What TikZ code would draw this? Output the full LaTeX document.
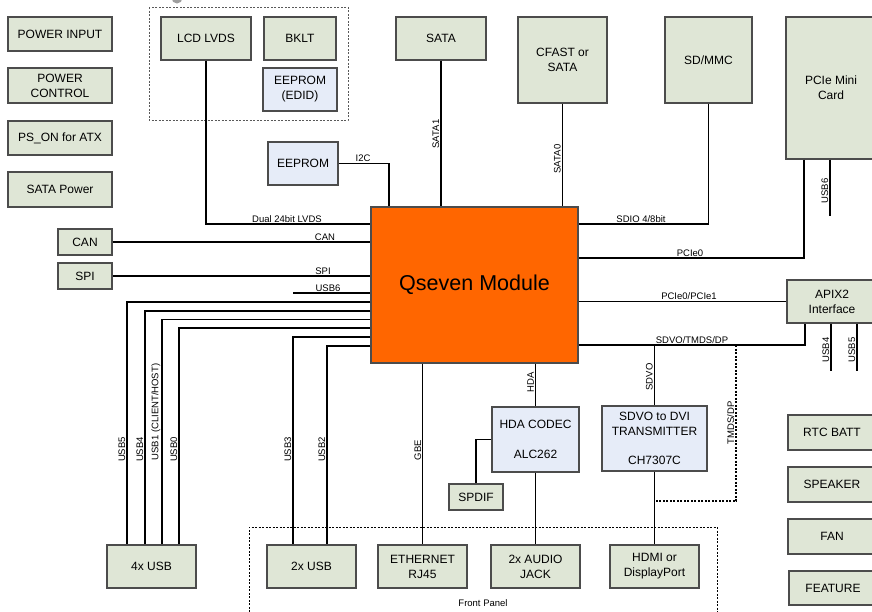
\documentclass[tikz,border=0pt]{standalone}
\usepackage{fontspec}
\setmainfont{Liberation Sans}
\usepackage{tikz}

\definecolor{boxgreen}{RGB}{223,230,214}
\definecolor{boxblue}{RGB}{230,236,248}
\definecolor{qorange}{RGB}{255,102,0}

\begin{document}
\begin{tikzpicture}[x=1pt, y=-1pt,
  box/.style={draw=black!70, line width=1.2pt, fill=boxgreen, align=center,
    inner sep=1pt, font=\fontsize{12}{15}\selectfont},
  chip/.style={box, fill=boxblue},
  wire/.style={line width=1.1pt},
  lbl/.style={anchor=south, inner sep=1.5pt, font=\fontsize{9.5}{11}\selectfont},
  vlbl/.style={lbl, rotate=90},
  grp/.style={line width=0.9pt, dash pattern=on 2pt off 1.5pt},
  ]
  \useasboundingbox (0,0) rectangle (872,611);

  % Grey mark cut at the top edge
  \fill[black!38] (177,-2) circle (5.5pt);

  % Display group and front panel frames
  \draw[grp, black!65] (149,7) rectangle (348,120);
  \draw[grp] (249,640) |- (717,527) -- (717,640);
  \node[lbl, anchor=center] (tfront) at (483,603) {Front Panel};

  % Power boxes on the left
  \node[box, minimum width=104pt, minimum height=34pt] (pwrin) at (60,34) {POWER INPUT};
  \node[box, minimum width=104pt, minimum height=35pt] (pwrctl) at (60,85.5) {POWER\\CONTROL};
  \node[box, minimum width=104pt, minimum height=34pt] (pson) at (60,138) {PS\_ON for ATX};
  \node[box, minimum width=104pt, minimum height=35pt] (satapwr) at (60,189.5) {SATA Power};
  \node[box, minimum width=54pt, minimum height=26pt] (can) at (85,242) {CAN};
  \node[box, minimum width=54pt, minimum height=26pt] (spi) at (85,276) {SPI};

  % Display parts
  \node[box, minimum width=90pt, minimum height=43pt] (lcd) at (206,38.5) {LCD LVDS};
  \node[box, minimum width=72pt, minimum height=43pt] (bklt) at (300,38.5) {BKLT};
  \node[chip, minimum width=74pt, minimum height=43pt] (edid) at (300,89.5) {EEPROM\\(EDID)};
  \node[chip, minimum width=70pt, minimum height=43pt] (eeprom) at (303,163.5) {EEPROM};

  % Storage and expansion on top
  \node[box, minimum width=90pt, minimum height=43pt] (sata) at (441,38.5) {SATA};
  \node[box, minimum width=89pt, minimum height=86pt] (cfast) at (562.5,60) {CFAST or\\SATA};
  \node[box, minimum width=87pt, minimum height=86pt] (sdmmc) at (708.5,60) {SD/MMC};
  \node[box, minimum width=90pt, minimum height=142pt] (pcie) at (831,88) {PCIe Mini\\Card};
  \node[box, minimum width=90pt, minimum height=43pt] (apix) at (832,301.5) {APIX2\\Interface};

  % The module
  \node[draw=black!70, line width=1.2pt, fill=qorange, minimum width=207pt,
    minimum height=156pt, font=\fontsize{21.5}{24}\selectfont] (qseven) at (474.5,285) {Qseven Module};

  % Boxes on the right
  \node[box, minimum width=88pt, minimum height=35pt] (rtc) at (832,432.5) {RTC BATT};
  \node[box, minimum width=88pt, minimum height=35pt] (speaker) at (832,484.5) {SPEAKER};
  \node[box, minimum width=88pt, minimum height=35pt] (fan) at (832,536.5) {FAN};
  \node[box, minimum width=88pt, minimum height=34pt] (feature) at (833,588) {FEATURE};

  % Codec and transmitter
  \node[chip, minimum width=87pt, minimum height=65pt] (hda) at (535.5,439.5) {HDA CODEC\\[15pt]ALC262};
  \node[box, minimum width=54pt, minimum height=26pt] (spdif) at (476,497) {SPDIF};
  \node[chip, minimum width=105pt, minimum height=65pt] (sdvo) at (654.5,438.5) {SDVO to DVI\\TRANSMITTER\\[14pt]CH7307C};

  % Connectors along the bottom
  \node[box, minimum width=89pt, minimum height=43pt] (usb4x) at (151.5,566.5) {4x USB};
  \node[box, minimum width=89pt, minimum height=43pt] (usb2x) at (311.5,566.5) {2x USB};
  \node[box, minimum width=89pt, minimum height=43pt] (eth) at (422.5,566.5) {ETHERNET\\RJ45};
  \node[box, minimum width=89pt, minimum height=43pt] (audio) at (535.5,566.5) {2x AUDIO\\JACK};
  \node[box, minimum width=89pt, minimum height=43pt] (hdmi) at (654.5,566.5) {HDMI or\\DisplayPort};

  % Free line ends
  \coordinate (qusb6) at (293,293);
  \coordinate (pusb6) at (830,216);
  \coordinate (ausb4) at (831,371);
  \coordinate (ausb5) at (857,371);
  \coordinate (tmdsjoin) at (736,345);

  % Left side links
  \draw[wire] (lcd.south) |- (qseven.west |- 0,224);
  \node[lbl] (tlvds) at (287,224) {Dual 24bit LVDS};
  \draw[wire] (eeprom.east) -| (qseven.north -| 389,0);
  \node[lbl] (ti2c) at (363,163.5) {I2C};
  \draw[wire] (can.east) -- (can.east -| qseven.west);
  \node[lbl] (tcan) at (325,242) {CAN};
  \draw[wire] (spi.east) -- (spi.east -| qseven.west);
  \node[lbl] (tspi) at (323,276) {SPI};
  \draw[wire] (qusb6) -- (qusb6 -| qseven.west);
  \node[lbl] (tusb6) at (328,293) {USB6};

  % USB ports
  \draw[wire] (qseven.west |- 0,302) -| (usb4x.north -| 127,0);
  \draw[wire] (qseven.west |- 0,311) -| (usb4x.north -| 145,0);
  \draw[wire] (qseven.west |- 0,319.5) -| (usb4x.north -| 162,0);
  \draw[wire] (qseven.west |- 0,328) -| (usb4x.north -| 179,0);
  \draw[wire] (qseven.west |- 0,337) -| (usb2x.north -| 293,0);
  \draw[wire] (qseven.west |- 0,346) -| (usb2x.north -| 327,0);
  \node[vlbl] (tusb5) at (127,449.5) {USB5};
  \node[vlbl] (tusb4) at (145,449.5) {USB4};
  \node[vlbl] (tusb1) at (162,412) {USB1 (CLIENT/HOST)};
  \node[vlbl] (tusb0) at (179,449.5) {USB0};
  \node[vlbl] (tusb3) at (293,449.5) {USB3};
  \node[vlbl] (tusb2) at (327,449.5) {USB2};

  % Top links
  \draw[wire] (sata.south) -- (sata.south |- qseven.north);
  \node[vlbl] (tsata1) at (441,134) {SATA1};
  \draw[wire] (cfast.south) -- (cfast.south |- qseven.north);
  \node[vlbl] (tsata0) at (562.5,159) {SATA0};
  \draw[wire] (sdmmc.south) |- (qseven.east |- 0,224);
  \node[lbl] (tsdio) at (641,224) {SDIO 4/8bit};
  \draw[wire] (pcie.south -| 804,0) |- (qseven.east |- 0,258);
  \node[lbl] (tpcie0) at (690,258) {PCIe0};
  \draw[wire] (pcie.south -| pusb6) -- (pusb6);
  \node[vlbl] (tpusb6) at (830,191) {USB6};

  % Right side links
  \draw[wire] (qseven.east |- apix.west) -- (apix.west);
  \node[lbl] (tpcie01) at (689,301.5) {PCIe0/PCIe1};
  \draw[wire] (qseven.east |- tmdsjoin) -| (apix.south -| 805,0);
  \node[lbl] (tsdvodp) at (692,345) {SDVO/TMDS/DP};
  \draw[wire] (apix.south -| ausb4) -- (ausb4);
  \draw[wire] (apix.south -| ausb5) -- (ausb5);
  \node[vlbl] (tausb4) at (831,350) {USB4};
  \node[vlbl] (tausb5) at (857,350) {USB5};

  % Bottom links
  \draw[wire] (eth.north |- qseven.south) -- (eth.north);
  \node[vlbl] (tgbe) at (423,450) {GBE};
  \draw[wire] (hda.north |- qseven.south) -- (hda.north);
  \node[vlbl] (thda) at (535.5,382) {HDA};
  \draw[wire] (hda.south) -- (audio.north);
  \draw[wire] (hda.west) -| (spdif.north);
  \draw[wire] (sdvo.north |- tmdsjoin) -- (sdvo.north);
  \node[vlbl] (tsdvo) at (654.5,377) {SDVO};
  \draw[wire] (sdvo.south) -- (hdmi.north);
  \draw[grp, line width=1.2pt] (tmdsjoin) |- (sdvo.south |- 0,501);
  \node[vlbl] (ttmds) at (736,423) {TMDS/DP};

\end{tikzpicture}
\end{document}
